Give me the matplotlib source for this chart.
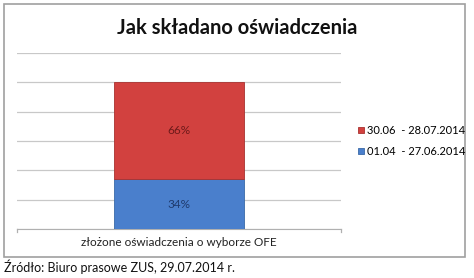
import matplotlib.pyplot as plt
from matplotlib.patches import Rectangle

plt.rcParams['font.family'] = ['Lato', 'DejaVu Sans']

categories = ['złożone oświadczenia o wyborze OFE']
series_names = ['01.04  - 27.06.2014', '30.06  - 28.07.2014']
share_early = [34]
share_late = [66]
title = 'Jak składano oświadczenia'
source = 'Źródło: Biuro prasowe ZUS, 29.07.2014 r.'

blue = '#4a7fcc'
red = '#d2413f'

fig = plt.figure(figsize=(4.74, 2.78), dpi=100)
fig.patches.append(Rectangle((4/474, 21/278), 461/474, 253/278, transform=fig.transFigure,
                             fill=False, edgecolor='#a0a0a0', linewidth=1.2))

ax = fig.add_axes([17/474, 49/278, 324/474, 176/278])
x = range(len(categories))
b1 = ax.bar(x, share_early, width=0.4, color=blue, edgecolor='#3a6aa8', linewidth=0.6,
            label=series_names[0], zorder=3)
b2 = ax.bar(x, share_late, bottom=share_early, width=0.4, color=red, edgecolor='#a83230',
            linewidth=0.6, label=series_names[1], zorder=3)
for rect, v in zip(b1, share_early):
    ax.text(rect.get_x() + rect.get_width()/2, rect.get_y() + rect.get_height()/2, f'{v}%',
            ha='center', va='center', fontsize=8.5, color='#1f3b6e')
for rect, v, b in zip(b2, share_late, share_early):
    ax.text(rect.get_x() + rect.get_width()/2, b + v/2, f'{v}%',
            ha='center', va='center', fontsize=8.5, color='#6e1a1a')

ax.set_xlim(-0.5, 0.5)
ax.set_ylim(0, 120)
ax.set_yticks(range(0, 121, 20))
ax.yaxis.grid(True, color='#c8c8c8', linewidth=0.9, zorder=0)
ax.tick_params(axis='y', left=False, labelleft=False)
ax.set_xticks(list(x))
ax.set_xticklabels(categories, fontsize=8.5, color='#222222')
ax.tick_params(axis='x', length=0, pad=6)
for s in ['top', 'right', 'left']:
    ax.spines[s].set_visible(False)
ax.spines['bottom'].set_color('#b0b0b0')
ax.plot([-0.5, -0.5], [0, -2], color='#b0b0b0', lw=0.9, clip_on=False)
ax.plot([0.5, 0.5], [0, -2], color='#b0b0b0', lw=0.9, clip_on=False)

h, l = ax.get_legend_handles_labels()
fig.legend(h[::-1], l[::-1], loc='center left', bbox_to_anchor=(358/474, 137/278),
           frameon=False, fontsize=8, handlelength=0.55, handleheight=0.55,
           handletextpad=0.25, labelspacing=0.9, borderpad=0, borderaxespad=0)

fig.text(237/474, 250/278, title, ha='center', va='center', fontsize=14.5, fontweight='bold',
         color='#111111')
fig.text(4/474, 11/278, source, ha='left', va='center', fontsize=9, color='#111111')

fig.savefig('out.png', dpi=100)
